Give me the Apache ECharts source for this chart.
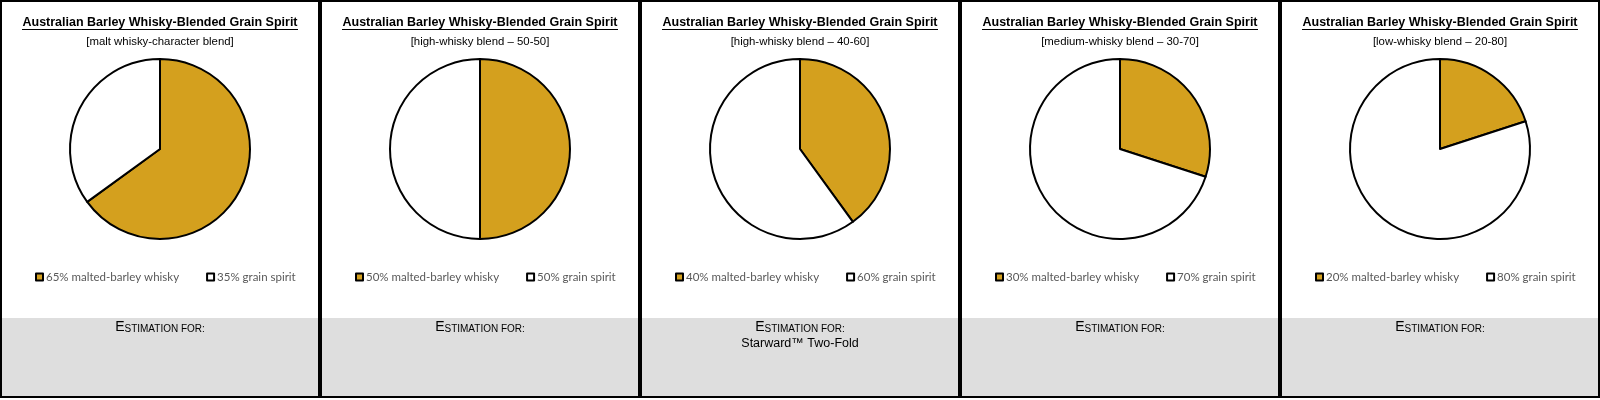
<!DOCTYPE html>
<html>
<head>
<meta charset="utf-8">
<script src="https://cdn.jsdelivr.net/npm/echarts@6/dist/echarts.min.js"></script>
<style>
  html, body { margin: 0; padding: 0; background: #fff; }
  #wrap { position: relative; width: 1600px; height: 400px; }
  .panel { position: absolute; top: 0; width: 320px; height: 400px; }
</style>
</head>
<body>
<div id="wrap"></div>
<script>
// ---- data ----
const chartTitle = 'Australian Barley Whisky-Blended Grain Spirit';
const blendLabels = [
  '[malt whisky-character blend]',
  '[high-whisky blend \u2013 50-50]',
  '[high-whisky blend \u2013 40-60]',
  '[medium-whisky blend \u2013 30-70]',
  '[low-whisky blend \u2013 20-80]'
];
const whiskyPct = [65, 50, 40, 30, 20];
const grainPct = [35, 50, 60, 70, 80];
const whiskyName = 'malted-barley whisky';
const grainName = 'grain spirit';
const estimationHead = 'Estimation for:';
const estimationFor = ['', '', 'Starward\u2122 Two-Fold', '', ''];

// ---- styling helpers ----
const GOLD = '#D4A01E';
const ctx = document.createElement('canvas').getContext('2d');
function hasFont(name) {
  const s = 'abcdefghijklmnopqrstuvwxyzWWW';
  ctx.font = '20px monospace';
  const w1 = ctx.measureText(s).width;
  ctx.font = '20px "' + name + '", monospace';
  return ctx.measureText(s).width !== w1;
}
let narrow = null;
['Liberation Sans Narrow', 'Arial Narrow'].forEach(f => { if (!narrow && hasFont(f)) narrow = f; });
const headFam = narrow ? '"' + narrow + '"' : '"Liberation Sans", Arial, sans-serif';
const legendFam = 'Lato, "Open Sans", sans-serif';
function measure(text, weight, size, fam) {
  ctx.font = weight + ' ' + size + 'px ' + fam;
  return ctx.measureText(text).width;
}
function fitSize(text, weight, fam, target) {
  return Math.round(100 * target / measure(text, weight, 100, fam) * 10) / 10;
}
const titleSize = fitSize(chartTitle, 'bold', headFam, 275);
const subSize = fitSize(blendLabels[0], 'normal', headFam, 147);
const legendSize = fitSize(whiskyPct[0] + '% ' + whiskyName, 'normal', legendFam, 133);
const prodSize = fitSize('Starward\u2122 Two-Fold', 'normal', headFam, 117);
const scBig = 14, scSmall = 10;

const wrap = document.getElementById('wrap');
const PW = 320;
for (let i = 0; i < whiskyPct.length; i++) {
  const div = document.createElement('div');
  div.className = 'panel';
  div.style.left = (i * PW) + 'px';
  wrap.appendChild(div);
  const chart = echarts.init(div, null, { renderer: 'canvas' });
  const wName = whiskyPct[i] + '% ' + whiskyName;
  const gName = grainPct[i] + '% ' + grainName;
  const tw = measure(chartTitle, 'bold', titleSize, headFam);
  const cx = PW / 2;
  const head = estimationHead;
  chart.setOption({
    animation: false,
    graphic: [
      { type: 'rect', z: 0, shape: { x: 0, y: 318, width: PW, height: 82 }, style: { fill: '#DEDEDE' } },
      { type: 'rect', z: 1, shape: { x: 1, y: 1, width: PW - 2, height: 396 }, style: { fill: 'none', stroke: '#000', lineWidth: 2 } },
      { type: 'rect', z: 0, shape: { x: 0, y: 398, width: PW, height: 2 }, style: { fill: '#fff' } },
      { type: 'text', z: 2, x: cx, y: 23, style: { text: chartTitle, fontFamily: headFam, fontWeight: 'bold', fontSize: titleSize, fill: '#000', align: 'center', verticalAlign: 'middle' } },
      { type: 'line', z: 2, shape: { x1: Math.round(cx - tw / 2), y1: 29.5, x2: Math.round(cx + tw / 2), y2: 29.5 }, style: { stroke: '#000', lineWidth: 1 } },
      { type: 'text', z: 2, x: cx, y: 42, style: { text: blendLabels[i], fontFamily: headFam, fontSize: subSize, fill: '#000', align: 'center', verticalAlign: 'middle' } },
      { type: 'text', z: 2, x: cx, y: 327, style: {
          text: '{b|' + head.charAt(0).toUpperCase() + '}{s|' + head.slice(1).toUpperCase() + '}',
          align: 'center', verticalAlign: 'middle',
          rich: {
            b: { fontFamily: headFam, fontSize: scBig, fill: '#000', verticalAlign: 'bottom' },
            s: { fontFamily: headFam, fontSize: scSmall, fill: '#000', verticalAlign: 'bottom' }
          } } },
      { type: 'text', z: 2, x: cx, y: 344, style: { text: estimationFor[i], fontFamily: headFam, fontSize: prodSize, fill: '#000', align: 'center', verticalAlign: 'middle' } }
    ],
    legend: {
      top: 266, left: 30, icon: 'rect', itemWidth: 7, itemHeight: 7, itemGap: 27,
      selectedMode: false,
      itemStyle: { borderColor: '#000', borderWidth: 2 },
      textStyle: { color: '#595959', fontFamily: legendFam, fontSize: legendSize, padding: [0, 0, 0, -2] },
      data: [wName, gName]
    },
    series: [{
      type: 'pie', center: [cx, 149], radius: 90, startAngle: 90, clockwise: true,
      silent: true, label: { show: false }, labelLine: { show: false },
      itemStyle: { borderColor: '#000', borderWidth: 2 },
      emphasis: { disabled: true },
      data: [
        { name: wName, value: whiskyPct[i], itemStyle: { color: GOLD } },
        { name: gName, value: grainPct[i], itemStyle: { color: '#FFFFFF' } }
      ]
    }]
  });
}
</script>
</body>
</html>
